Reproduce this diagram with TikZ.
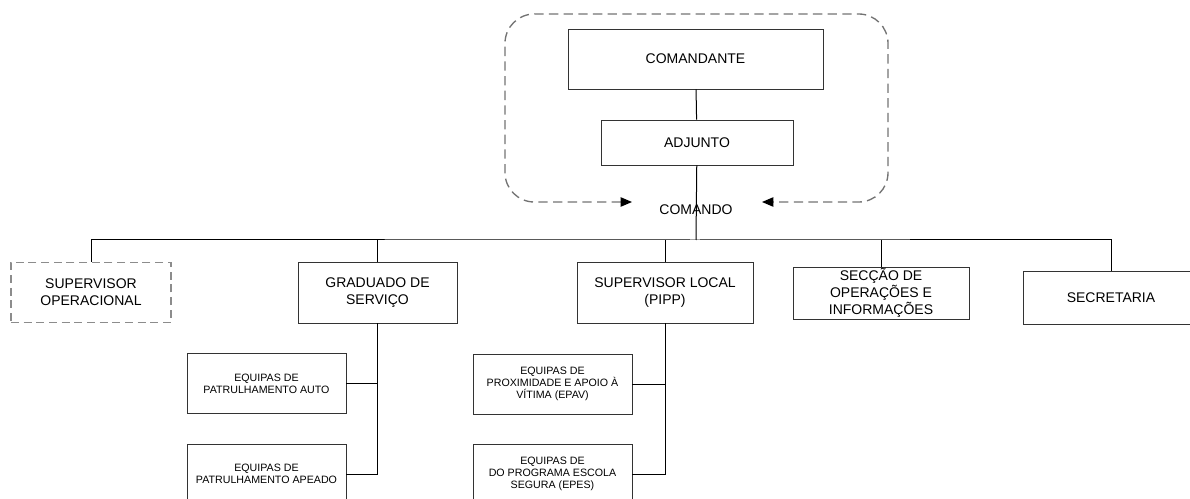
\documentclass[tikz,border=0pt]{standalone}
\usepackage{fontspec}
\setmainfont{Liberation Sans}
\usetikzlibrary{arrows.meta, positioning, calc}

\begin{document}
\begin{tikzpicture}[
    x=0.75pt, y=-0.75pt,
    box/.style={rectangle, draw=black!80, line width=0.7pt, align=center, inner sep=1pt, font=\fontsize{10.5}{12.75}\selectfont},
    smallbox/.style={box, minimum width=119.25pt, minimum height=45pt, font=\fontsize{8}{8.75}\selectfont},
    dashbox/.style={box, draw=black!45, line width=1pt, dash pattern=on 6pt off 3.5pt},
    line/.style={line width=0.75pt},
    loop/.style={draw=black!55, line width=1pt, dash pattern=on 7pt off 4pt, rounded corners=22pt, {Triangle[black,length=8.5pt,width=7pt]}-{Triangle[black,length=8.5pt,width=7pt]}}
]
\useasboundingbox (0,0) rectangle (1190,499);
\clip (0,0) rectangle (1190,499);

% comando
\node[box, minimum width=191.25pt, minimum height=45pt] (comandante) at (695.5,59) {COMANDANTE};
\node[box, minimum width=144pt, minimum height=33.75pt] (adjunto) at (697,142.5) {ADJUNTO};
\node[font=\fontsize{10.5}{12.75}\selectfont, inner sep=0pt] (comando) at (696,210) {COMANDO};
\coordinate (bus) at (696,240);
\coordinate (loopL) at (632,202);
\coordinate (loopR) at (762,202);

% second row
\node[dashbox, minimum width=120pt, minimum height=45pt] (supop) at (91,292.5) {SUPERVISOR\\OPERACIONAL};
\node[box, minimum width=119.25pt, minimum height=45.75pt] (graduado) at (377.5,292.5) {GRADUADO DE\\SERVIÇO};
\node[box, minimum width=132pt, minimum height=45.75pt] (suploc) at (665,292.5) {SUPERVISOR LOCAL\\(PIPP)};
\node[box, minimum width=132pt, minimum height=39pt] (seccao) at (881,293) {SECÇÃO DE\\OPERAÇÕES E\\INFORMAÇÕES};
\node[box, minimum width=132pt, minimum height=39.75pt] (secretaria) at (1111,297.5) {SECRETARIA};

% equipas
\node[smallbox] (auto) at (266.5,383.5) {EQUIPAS DE\\PATRULHAMENTO AUTO};
\node[smallbox] (apeado) at (266.5,474) {EQUIPAS DE\\PATRULHAMENTO APEADO};
\node[smallbox] (epav) at (552.5,384) {EQUIPAS DE\\PROXIMIDADE E APOIO À\\VÍTIMA (EPAV)};
\node[smallbox] (epes) at (552.5,474) {EQUIPAS DE\\DO PROGRAMA ESCOLA\\SEGURA (EPES)};

\draw[line] (comandante) -- (adjunto);
\draw[line] (adjunto) -- (bus);
\draw[loop] (loopL) -- (505,202) -- (505,14) -- (888,14) -- (888,202) -- (loopR);

\draw[line] (supop.north) |- (bus) -| (secretaria.north);
\foreach \n in {graduado, suploc, seccao}
    \draw[line] (\n.north) -- (\n.north |- bus);

\draw[line] (graduado.south) |- (apeado.east);
\draw[line] (auto.east) -- (auto.east -| graduado.south);
\draw[line] (suploc.south) |- (epes.east);
\draw[line] (epav.east) -- (epav.east -| suploc.south);

\end{tikzpicture}
\end{document}
